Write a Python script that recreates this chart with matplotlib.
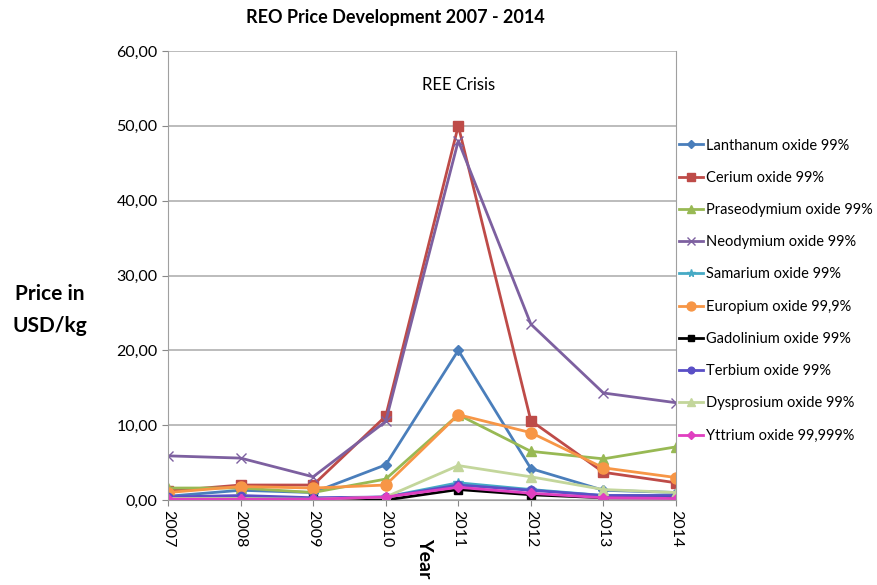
import numpy as np
import matplotlib
matplotlib.use("Agg")
from matplotlib import pyplot as plt

plt.rcParams['font.family'] = ['Lato', 'DejaVu Sans']

years = [2007, 2008, 2009, 2010, 2011, 2012, 2013, 2014]

lanthanum = [0.5, 1.3, 1.0, 4.7, 20.0, 4.2, 1.3, 1.0]
cerium = [1.2, 2.0, 2.0, 11.2, 50.0, 10.6, 3.7, 2.3]
praseodymium = [1.6, 1.6, 1.0, 2.8, 11.4, 6.5, 5.5, 7.1]
neodymium = [5.9, 5.6, 3.1, 10.5, 48.0, 23.5, 14.3, 13.0]
samarium = [0.2, 0.3, 0.2, 0.4, 2.3, 1.4, 0.6, 0.6]
europium = [1.0, 1.8, 1.6, 2.0, 11.4, 9.0, 4.3, 3.0]
gadolinium = [0.1, 0.1, 0.1, 0.0, 1.4, 0.7, 0.3, 0.3]
terbium = [0.4, 0.6, 0.3, 0.4, 2.0, 1.3, 0.6, 0.6]
dysprosium = [0.2, 0.2, 0.1, 0.4, 4.6, 3.1, 1.4, 1.0]
yttrium = [0.1, 0.1, 0.1, 0.4, 1.7, 0.9, 0.3, 0.2]

series = [
    ('Lanthanum oxide 99%', lanthanum, '#4a7ebb', 'D', 5),
    ('Cerium oxide 99%', cerium, '#be4b48', 's', 7),
    ('Praseodymium oxide 99%', praseodymium, '#98b954', '^', 7),
    ('Neodymium oxide 99%', neodymium, '#7d60a0', 'x', 7),
    ('Samarium oxide 99%', samarium, '#46aac5', '*', 7),
    ('Europium oxide 99,9%', europium, '#f79646', 'o', 8),
    ('Gadolinium oxide 99%', gadolinium, '#000000', 's', 6),
    ('Terbium oxide 99%', terbium, '#5a4fc6', 'o', 6),
    ('Dysprosium oxide 99%', dysprosium, '#c3d69b', '^', 7),
    ('Yttrium oxide 99,999%', yttrium, '#e040c0', 'D', 5),
]

fig = plt.figure(figsize=(8.77, 5.85), dpi=100)
ax = fig.add_axes([168 / 877, 1 - 500 / 585, 508 / 877, 449 / 585])

for name, vals, col, mk, ms in series:
    ax.plot(years, vals, color=col, marker=mk, markersize=ms, linewidth=2,
            label=name, markeredgecolor=col)

ax.set_xlim(2007, 2014)
ax.set_ylim(0, 60)
ax.set_yticks(np.arange(0, 61, 10))
ax.set_yticklabels(['%d,00' % v for v in range(0, 61, 10)], fontsize=11.5)
ax.set_xticks(years)
ax.set_xticklabels([str(y) for y in years], rotation=270, fontsize=11.5)
ax.tick_params(axis='both', length=4, color='#888888')
ax.grid(axis='y', color='#b0b0b0', linewidth=1.2)
for side in ['left', 'right', 'top', 'bottom']:
    ax.spines[side].set_color('#a0a0a0')
ax.spines['top'].set_visible(False)

ax.text(2011, 55.5, 'REE Crisis', ha='center', va='center', fontsize=12)

fig.text(395 / 877, 1 - 18 / 585, 'REO Price Development 2007 - 2014',
         ha='center', va='center', fontsize=13, fontweight='bold')
fig.text(50 / 877, 1 - 310 / 585, 'Price in\nUSD/kg', ha='center', va='center',
         fontsize=15, fontweight='bold', linespacing=1.75)
fig.text(425 / 877, 1 - 538 / 585, 'Year', rotation=270, ha='center', va='top',
         fontsize=14, fontweight='bold')

ax.legend(loc='upper left', bbox_to_anchor=(0.995, 0.818), frameon=False,
          fontsize=10.5, handlelength=1.6, handletextpad=0.2,
          labelspacing=1.25, borderaxespad=0, markerscale=0.8)

fig.savefig('out.png', dpi=100)
